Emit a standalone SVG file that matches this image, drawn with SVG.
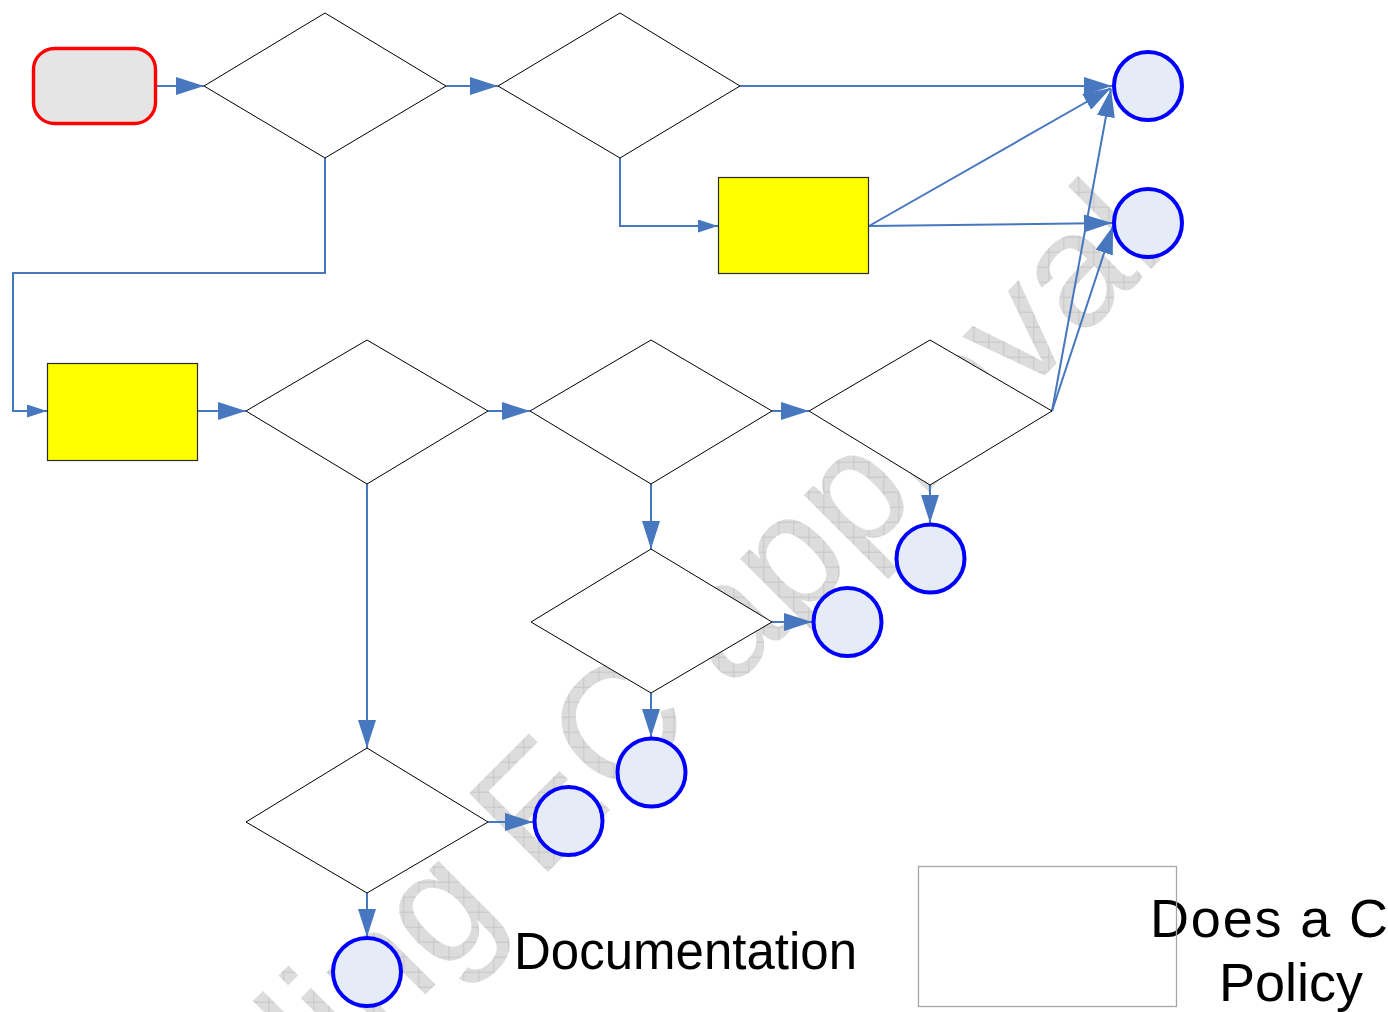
<svg xmlns="http://www.w3.org/2000/svg" width="1388" height="1012" viewBox="0 0 1388 1012">
  <defs>
    <style>
      .decision { fill: #ffffff; stroke: #000000; stroke-width: 1; }
      .process { fill: #ffff00; stroke: #2a2a2a; stroke-width: 1.2; }
      .terminal { fill: #e6ecf7; stroke: #0000ff; stroke-width: 4; }
      .start { fill: #e5e5e5; stroke: #ff0000; stroke-width: 3.4; }
      .link { fill: none; stroke: #4677bf; stroke-width: 2; }
      .big { marker-end: url(#ah); }
      .small { marker-end: url(#ahs); }
      .label { font-family: "Liberation Sans", Arial, sans-serif; fill: #000000; }
    </style>
    <marker id="ah" markerUnits="userSpaceOnUse" viewBox="0 0 28 18" markerWidth="28" markerHeight="18" refX="28" refY="9" orient="auto">
      <path d="M0,0 L28,9 L0,18 z" fill="#4677bf"/>
    </marker>
    <marker id="ahs" markerUnits="userSpaceOnUse" viewBox="0 0 20 13" markerWidth="20" markerHeight="13" refX="20" refY="6.5" orient="auto">
      <path d="M0,0 L20,6.5 L0,13 z" fill="#4677bf"/>
    </marker>
    <!-- light checkered fill for the watermark, kept square to the page -->
    <pattern id="grid" width="15" height="15" patternUnits="userSpaceOnUse" patternTransform="rotate(45)">
      <rect width="15" height="15" fill="#dcdcdc"/>
      <path d="M0,0.5 H15 M0.5,0 V15" stroke="#c6c6c6" stroke-width="1" fill="none"/>
    </pattern>
  </defs>

  <rect width="1388" height="1012" fill="#ffffff"/>

  <!-- watermark -->
  <g id="watermark" transform="translate(538.3,881.7) rotate(-45)">
    <text x="-639.4" y="0" font-family="Liberation Sans, Arial, sans-serif" font-size="162" fill="url(#grid)">Pending EC approval</text>
  </g>

  <!-- connectors -->
  <g id="connectors">
    <path class="link big" d="M157,86 H204"/>
    <path class="link big" d="M446,86 H498"/>
    <path class="link big" d="M740,86 H1112"/>
    <path class="link small" d="M620,158 V226 H718"/>
    <path class="link big" d="M869,226 L1111,88"/>
    <path class="link big" d="M869,226 L1112,223"/>
    <path class="link small" d="M325,158 V273 H13 V411 H47"/>
    <path class="link big" d="M198,411 H246"/>
    <path class="link big" d="M488,411 H530"/>
    <path class="link big" d="M772,411 H809"/>
    <path class="link big" d="M1052,411 L1111,89"/>
    <path class="link big" d="M1052,411 L1113,226"/>
    <path class="link big" d="M367,484 V748"/>
    <path class="link big" d="M488,822 H533"/>
    <path class="link big" d="M367,893 V937"/>
    <path class="link big" d="M651,484 V549"/>
    <path class="link big" d="M772,622 H812"/>
    <path class="link big" d="M651,693 V737"/>
    <path class="link big" d="M930,485 V523"/>
  </g>

  <!-- nodes -->
  <g id="start"><rect class="start" x="33.5" y="48.5" width="122" height="75" rx="21" ry="21"/></g>

  <g id="decision1"><polygon class="decision" points="204,86 325,13 446,86 325,158"/></g>
  <g id="decision2"><polygon class="decision" points="498,86 620,13 740,86 620,158"/></g>
  <g id="process1"><rect class="process" x="718.5" y="177.5" width="150" height="96"/></g>
  <g id="process2"><rect class="process" x="47.5" y="363.5" width="150" height="97"/></g>

  <g id="decision3"><polygon class="decision" points="246,411 367,340 488,411 367,484"/></g>
  <g id="decision4"><polygon class="decision" points="530,411 651,340 772,411 651,484"/></g>
  <g id="decision5"><polygon class="decision" points="809,411 930,340 1052,411 930,485"/></g>
  <g id="decision6"><polygon class="decision" points="246,822 367,748 488,822 367,893"/></g>
  <g id="decision7"><polygon class="decision" points="531,622 651,549 772,622 651,693"/></g>

  <g id="endA"><circle class="terminal" cx="1148" cy="86" r="34"/></g>
  <g id="endB"><circle class="terminal" cx="1148" cy="223" r="34"/></g>
  <g id="endC"><circle class="terminal" cx="930.5" cy="558.5" r="34"/></g>
  <g id="endD"><circle class="terminal" cx="847.5" cy="622" r="34"/></g>
  <g id="endE"><circle class="terminal" cx="651.5" cy="772.5" r="34"/></g>
  <g id="endF"><circle class="terminal" cx="568.5" cy="821" r="34"/></g>
  <g id="endG"><circle class="terminal" cx="367" cy="972" r="34"/></g>

  <g id="doc-label">
    <text class="label" x="514" y="969" font-size="51">Documentation</text>
  </g>

  <g id="policy-box">
    <text class="label" x="1150" y="937" font-size="54" textLength="238" lengthAdjust="spacing">Does a C</text>
    <text class="label" x="1219" y="1001" font-size="54">Policy</text>
    <rect x="918.5" y="866.5" width="258" height="140" fill="none" stroke="#a6a6a6" stroke-width="1.3"/>
  </g>
</svg>
